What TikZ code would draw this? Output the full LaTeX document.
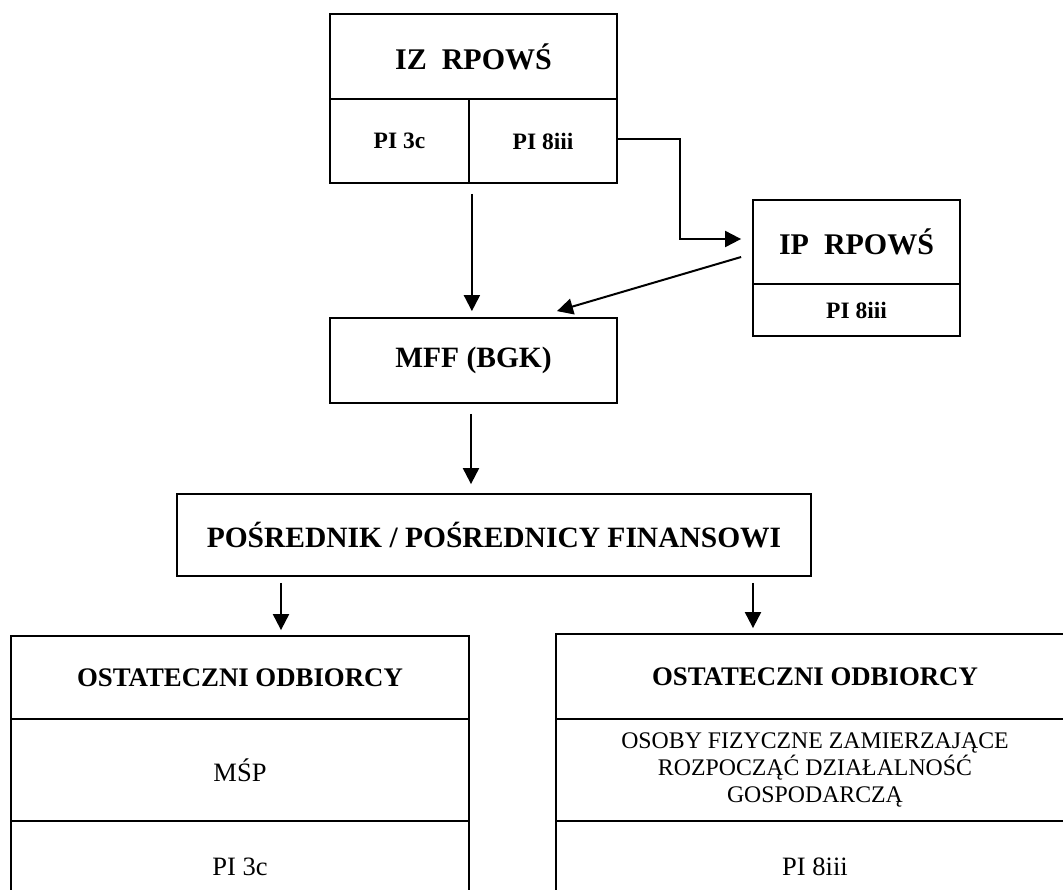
\documentclass[tikz,border=0pt]{standalone}
\usepackage{fontspec}
\setmainfont{Liberation Serif}
\usetikzlibrary{arrows.meta}
\begin{document}
\begin{tikzpicture}[x=1pt,y=-1pt,
  box/.style={draw, line width=1.8pt, rectangle, inner sep=0pt, align=center},
  arr/.style={line width=2pt, -{Triangle[length=16pt,width=16pt]}},
  fbig/.style={font=\fontsize{30}{36}\selectfont\bfseries},
  fmid/.style={font=\fontsize{29.5}{35}\selectfont\bfseries},
  fhead/.style={font=\fontsize{26.8}{32}\selectfont\bfseries},
  fsmall/.style={font=\fontsize{23.5}{28}\selectfont\bfseries},
  fnorm/.style={font=\fontsize{26.5}{32}\selectfont},
  fnormsm/.style={font=\fontsize{23.8}{26.7}\selectfont}]
\useasboundingbox (0,0) rectangle (1063,889);
\clip (0,0) rectangle (1063,889);
% IZ RPOWS
\node[box, fbig, minimum width=287pt, minimum height=85pt] (izT) at (473.5,56.5) {IZ\ \ RPOWŚ};
\node[box, fsmall, minimum width=139pt, minimum height=84pt] (pi3c) at (399.5,141) {PI 3c};
\node[box, fsmall, minimum width=148pt, minimum height=84pt] (pi8) at (543,141) {PI 8iii};
% IP RPOWS
\node[box, fbig, minimum width=207pt, minimum height=84pt] (ipT) at (856.5,242) {IP\ \ RPOWŚ};
\node[box, fsmall, minimum width=207pt, minimum height=52pt] (ipB) at (856.5,310) {PI 8iii};
% MFF
\node[box, fmid, minimum width=287pt, minimum height=85pt] (mff) at (473.5,360.5) {MFF (BGK)};
% POSREDNIK
\node[box, fmid, minimum width=634pt, minimum height=82pt] (pos) at (494,535) {POŚREDNIK / POŚREDNICY FINANSOWI};
% left recipients
\node[box, fhead, minimum width=458pt, minimum height=83pt] (l1) at (240,677.5) {OSTATECZNI ODBIORCY};
\node[box, fnorm, minimum width=458pt, minimum height=102pt] (l2) at (240,770) {MŚP};
\node[box, fnorm, minimum width=458pt, minimum height=92pt] (l3) at (240,867) {PI 3c};
% right recipients
\node[box, fhead, minimum width=518pt, minimum height=85pt] (r1) at (815,676.5) {OSTATECZNI ODBIORCY};
\node[box, fnormsm, minimum width=518pt, minimum height=102pt] (r2) at (815,770) {OSOBY FIZYCZNE ZAMIERZAJĄCE\\ROZPOCZĄĆ DZIAŁALNOŚĆ\\GOSPODARCZĄ};
\node[box, fnorm, minimum width=518pt, minimum height=92pt] (r3) at (815,867) {PI 8iii};
% connectors
\draw[arr, shorten >=11pt] ([yshift=2pt]pi8.east) -- ++(62,0) |- ([yshift=3pt]ipT.west);
\draw[arr, shorten <=10pt, shorten >=6pt] ([xshift=2pt]pi3c.south east) -- ([xshift=2pt]pi3c.south east |- mff.north);
\coordinate (s1) at ([xshift=-11pt,yshift=-15pt]ipT.west);
\coordinate (s2) at ([xshift=83.5pt,yshift=6pt]mff.north);
\draw[arr] (s1) -- (s2);
\draw[arr, shorten <=10pt, shorten >=9pt] ([xshift=-2.5pt]mff.south) -- ([xshift=-2.5pt]mff.south |- pos.north);
\draw[arr, shorten <=6pt, shorten >=5pt] (pos.south -| 281,0) -- (l1.north -| 281,0);
\draw[arr, shorten <=6pt, shorten >=5pt] (pos.south -| 753,0) -- (r1.north -| 753,0);
\end{tikzpicture}
\end{document}
